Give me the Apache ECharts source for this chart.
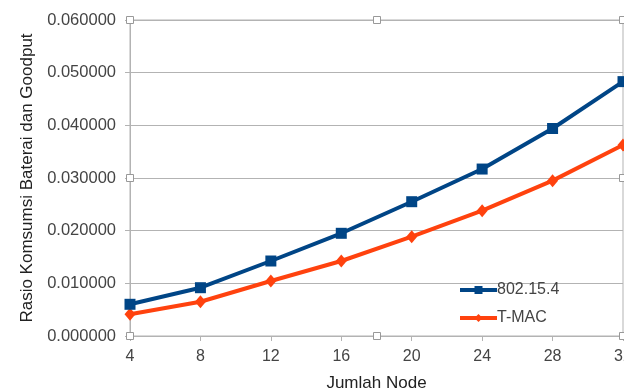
<!DOCTYPE html>
<html><head><meta charset="utf-8">
<script src="https://cdn.jsdelivr.net/npm/echarts@6/dist/echarts.min.js"></script>
<style>html,body{margin:0;padding:0;background:#fff}#c{width:624px;height:390px}</style>
</head><body><div id="c"></div>
<script>
var categories = ['4','8','12','16','20','24','28','32'];
var ieee802154 = [0.00602, 0.00917, 0.01424, 0.0195, 0.0255, 0.0317, 0.0394, 0.0483];
var tmac = [0.00412, 0.00651, 0.01044, 0.01424, 0.01885, 0.0238, 0.0295, 0.03626];
var seriesNames = ['802.15.4', 'T-MAC'];
var yMax = 0.06, yStep = 0.01;

var chart = echarts.init(document.getElementById('c'), null, {renderer:'canvas'});
var font = 'Liberation Sans, Arial, sans-serif';
var gray = '#b3b3b3';
function handle(x, y){
  return {type:'rect', shape:{x:x-3.5, y:y-3.5, width:7, height:7}, style:{fill:'#fff', stroke:'#999', lineWidth:1}, z:100};
}
chart.setOption({
  animation:false,
  textStyle:{fontFamily:font},
  grid:{left:130, right:1, top:20, bottom:54, show:true, borderColor:gray, borderWidth:1, outerBoundsMode:'none', containLabel:false},
  xAxis:{
    type:'category', data:categories, boundaryGap:false,
    name:'Jumlah Node', nameLocation:'middle', nameGap:39,
    nameTextStyle:{fontSize:17, color:'#222', fontFamily:font},
    axisLine:{lineStyle:{color:gray, width:1}},
    axisTick:{show:true, length:5, lineStyle:{color:gray}, alignWithLabel:true},
    axisLabel:{fontSize:16, color:'#444', margin:13, fontFamily:font, hideOverlap:false},
    splitLine:{show:false}
  },
  yAxis:{
    type:'value', min:0, max:yMax, interval:yStep,
    name:'Rasio Komsumsi Baterai dan Goodput', nameLocation:'middle', nameGap:85,
    nameTextStyle:{fontSize:17, color:'#222', fontFamily:font},
    axisLine:{show:true, lineStyle:{color:gray, width:1}},
    axisTick:{show:true, length:5, lineStyle:{color:gray}},
    axisLabel:{fontSize:16.5, color:'#444', margin:14, fontFamily:font, formatter:function(v){return v.toFixed(6);}},
    splitLine:{show:true, lineStyle:{color:gray, width:1}}
  },
  legend:{
    orient:'vertical', left:453, top:277, itemWidth:37, itemHeight:10, itemGap:12,
    lineStyle:{width:4},
    textStyle:{fontSize:16, color:'#444', fontFamily:font, padding:[0,0,0,-5]},
    data:seriesNames
  },
  series:[
    {name:seriesNames[0], type:'line', data:ieee802154, symbol:'rect', symbolSize:11,
     lineStyle:{color:'#004586', width:4}, itemStyle:{color:'#004586'}, z:3},
    {name:seriesNames[1], type:'line', data:tmac, symbol:'diamond', symbolSize:[11,13],
     lineStyle:{color:'#ff420e', width:4}, itemStyle:{color:'#ff420e'}, z:2}
  ],
  graphic:[
    handle(130,20), handle(377,20), handle(623,20),
    handle(130,178), handle(623,178),
    handle(130,336), handle(377,336), handle(623,336)
  ]
});
</script></body></html>
